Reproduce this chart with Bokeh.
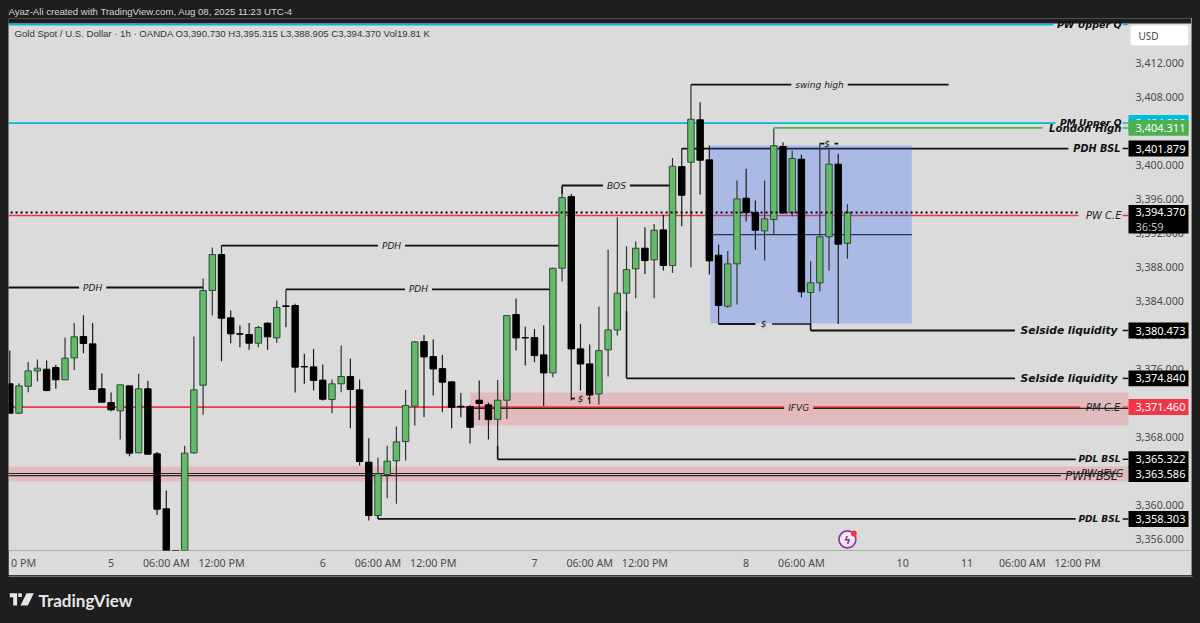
from bokeh.embed import file_html
from bokeh.resources import INLINE
from bokeh.plotting import figure
from bokeh.layouts import column, row
from bokeh.models import (BoxAnnotation, ColumnDataSource, FixedTicker, Label, NumeralTickFormatter,
                          Range1d, Spacer)
from bokeh.core.properties import value

# ---- data -----------------------------------------------------------------
opens = [3374.2,3370.74,3373.92,3375.72,3375.92,3376.12,3374.67,3377.25,3379.77,3378.9,
         3373.61,3372.0,3371.02,3373.96,3366.08,3373.61,3365.96,3359.49,3353.5,3353.0,
         3366.08,3374.04,3385.18,3389.41,3381.96,3380.08,3380.0,3378.98,3381.33,3379.61,
         3383.37,3383.41,3376.23,3376.19,3374.63,3372.35,3374.2,3375.06,3373.49,3364.98,
         3358.7,3363.53,3365.14,3367.41,3371.56,3379.17,3377.41,3375.99,3374.43,3371.56,
         3371.52,3372.27,3371.72,3370.03,3372.27,3382.35,3379.64,3379.64,3377.6,3375.48,
         3387.8,3396.23,3378.31,3376.54,3373.01,3378.19,3380.54,3384.86,3387.72,3390.15,
         3388.78,3392.31,3388.12,3399.76,3400.27,3405.26,3400.55,3389.33,3383.33,3388.31,
         3396.04,3394.35,3392.19,3393.53,3402.12,3394.35,3400.63,3384.94,3386.08,3391.49,
         3400.04,3390.73]
highs = [3378.12,3374.27,3376.78,3377.06,3376.94,3376.43,3379.65,3381.37,3382.27,3381.37,
         3375.41,3373.18,3374.08,3373.96,3375.37,3374.55,3366.19,3361.64,3354.2,3366.9,
         3379.76,3386.59,3390.24,3390.35,3382.82,3381.06,3381.37,3381.02,3381.45,3384.0,
         3385.29,3383.61,3377.73,3378.31,3376.47,3374.71,3378.71,3377.14,3374.71,3367.8,
         3365.49,3366.9,3369.18,3373.47,3379.2,3379.95,3379.41,3377.6,3374.5,3373.13,
         3371.7,3374.58,3372.0,3374.66,3382.3,3384.23,3380.9,3380.66,3381.05,3387.85,
         3396.54,3396.54,3381.25,3378.82,3383.29,3389.96,3393.8,3390.39,3390.94,3392.62,
         3393.01,3394.08,3400.78,3401.84,3409.41,3407.33,3402.24,3390.59,3389.84,3398.12,
         3399.49,3395.76,3398.12,3404.2,3402.63,3401.65,3401.18,3388.63,3402.51,3401.8,
         3401.26,3395.315]
lows = [3370.74,3370.67,3373.21,3374.47,3373.33,3373.61,3374.67,3375.84,3377.8,3373.53,
        3372.04,3370.98,3367.65,3365.68,3366.08,3365.92,3358.78,3352.5,3350.5,3352.0,
        3365.96,3370.55,3382.24,3376.86,3378.98,3378.51,3378.2,3378.51,3378.2,3379.02,
        3380.86,3373.18,3374.2,3373.41,3372.23,3370.74,3373.21,3368.98,3364.59,3358.11,
        3358.7,3360.74,3360.08,3365.18,3369.29,3370.27,3372.82,3370.86,3368.97,3370.27,
        3367.18,3369.95,3367.65,3366.94,3370.07,3378.11,3376.35,3376.74,3371.56,3374.97,
        3386.23,3372.23,3373.4,3371.84,3371.76,3375.05,3379.88,3382.82,3384.27,3387.13,
        3384.27,3387.53,3387.25,3392.74,3387.92,3396.47,3387.06,3381.25,3383.14,3383.53,
        3393.29,3389.96,3388.7,3391.76,3394.2,3393.88,3384.39,3381.3,3385.1,3387.53,
        3381.25,3388.905]
closes = [3370.74,3373.96,3375.72,3376.04,3373.41,3374.67,3377.22,3379.73,3378.94,3373.53,
          3372.04,3371.14,3374.08,3366.04,3373.61,3365.92,3359.45,3353.5,3351.5,3366.04,
          3373.49,3385.18,3389.41,3381.92,3380.08,3380.04,3378.98,3380.82,3379.73,3383.18,
          3383.29,3376.16,3376.19,3374.59,3372.39,3374.2,3375.06,3373.53,3365.06,3358.7,
          3363.61,3365.1,3367.37,3371.65,3379.13,3377.37,3375.95,3374.39,3371.44,3371.48,
          3369.09,3371.88,3369.99,3372.27,3382.23,3379.6,3379.6,3377.52,3375.48,3387.8,
          3396.11,3378.31,3376.54,3372.89,3378.11,3380.54,3384.86,3387.64,3390.15,3388.7,
          3392.27,3388.12,3399.8,3396.39,3405.33,3400.51,3388.67,3383.41,3388.31,3395.96,
          3394.35,3392.27,3393.61,3402.2,3394.31,3400.71,3385.02,3386.08,3391.49,3400.04,
          3390.63,3394.37]

price_ticks = [3356,3360,3364,3368,3372,3376,3380,3384,3388,3392,3396,3400,3404,3408,3412]
time_ticks = {1.5:"0 PM",11:"5",17:"06:00 AM",23:"12:00 PM",34:"6",40:"06:00 AM",46:"12:00 PM",
              57:"7",63:"06:00 AM",69:"12:00 PM",80:"8",86:"06:00 AM",97:"10",104:"11",
              110:"06:00 AM",116:"12:00 PM"}

BLACK, CYAN, GREEN, RED = "#111111", "#00bcd4", "#4caf50", "#f23645"
CANDLE_GREEN = "#63ba6b"
# levels: price, first bar, last bar, colour
levels = [
    (3416.47, -1, 113.4, CYAN), (3404.88, -1, 113.6, CYAN), (3404.311, 83, 112.2, GREEN),
    (3409.41, 74, 102, BLACK), (3401.879, 73, 115, BLACK), (3394.0, -1, 116.1, RED),
    (3381.24, 77, 81, BLACK), (3380.473, 87, 109.2, BLACK), (3374.84, 67, 109.2, BLACK),
    (3371.46, -1, 116.3, RED), (3365.322, 53, 115.8, BLACK), (3358.303, 40, 115.8, BLACK),
    (3385.53, -1, 21, BLACK), (3390.47, 23, 60, BLACK), (3385.3, 30, 59, BLACK), (3397.53, 60, 72, BLACK),
]
thin_levels = [(3371.3, 50, 121.53), (3363.65, -1, 120.9), (3363.4, -1, 114.2), (3391.76, 76.1, 98)]
tick_levels = [(3416.47, CYAN), (3404.88, CYAN), (3404.311, GREEN), (3401.879, BLACK), (3394.0, RED),
               (3380.473, BLACK), (3374.84, BLACK), (3371.46, RED), (3365.322, BLACK), (3358.303, BLACK)]
short_dashes = [(3402.47, 88, 88.5), (3402.47, 89.6, 90), (3372.47, 61, 61.4), (3372.47, 62.8, 63),
                (3381.24, 82.8, 87)]
tags = [(3404.88, "3,404.880", CYAN), (3404.311, "3,404.311", GREEN), (3401.879, "3,401.879", "#000000"),
        (3380.473, "3,380.473", "#000000"), (3374.84, "3,374.840", "#000000"), (3371.46, "3,371.460", RED),
        (3365.322, "3,365.322", "#000000"), (3363.586, "3,363.586", "#000000"), (3358.303, "3,358.303", "#000000")]
BG, PINK_BG = "#dbdbdb", "#e6babd"
line_notes = [("PDH", 9.0, 3385.53, BG), ("PDH", 41.47, 3390.47, BG), ("PDH", 44.4, 3385.3, BG),
              ("BOS", 65.9, 3397.53, BG), ("swing high", 87.97, 3409.41, BG),
              ("$", 81.9, 3381.24, None), ("$", 88.8, 3402.47, None), ("$", 62, 3372.47, None),
              ("IFVG", 85.7, 3371.3, PINK_BG)]
side_notes = [("PW Upper Q", 120.77, 3416.47), ("PM Upper Q", 120.77, 3404.95), ("London High", 120.77, 3404.25),
              ("PDH BSL", 120.66, 3401.879), ("Selside liquidity", 120.34, 3380.473),
              ("Selside liquidity", 120.34, 3374.84), ("PDL BSL", 120.66, 3365.322),
              ("PDL BSL", 120.66, 3358.303)]
faint_notes = [("PW C.E", 120.77, 3394.0), ("PM C.E", 120.66, 3371.46), ("PW IFVG", 120.99, 3363.7),
               ("PWH BSL", 120.34, 3363.35)]
side_sizes = {"PW Upper Q": "9.5px", "PM Upper Q": "9.2px", "London High": "10.2px", "PDH BSL": "9.7px",
              "Selside liquidity": "10.7px", "PDL BSL": "9px"}
faint_sizes = {"PW C.E": "10px", "PM C.E": "10px", "PW IFVG": "10px", "PWH BSL": "11.5px"}

FONT = "Noto Sans"
DARK = "#1e1e1e"

# ---- main pane: starts 5px above the pane edge so the top label is not cut by the frame --------
p = figure(width=1183, height=557, output_backend="svg", toolbar_location=None,
           x_range=Range1d(-0.141, 128.38), y_range=Range1d(3354.59, 3417.18),
           y_axis_location="right", min_border_left=0, min_border_top=0,
           min_border_right=0, min_border_bottom=25,
           background_fill_color=BG, border_fill_color=BG, outline_line_color=None)
p.grid.visible = False

for ax in (p.xaxis[0], p.yaxis[0]):
    ax.axis_line_color = None
    ax.major_tick_line_color = None
    ax.minor_tick_line_color = None
    ax.major_tick_out = 0
    ax.major_tick_in = 0
    ax.major_label_text_color = "#4a4a4a"
    ax.major_label_text_font = FONT
    ax.major_label_text_font_size = "10.7px"
p.xaxis[0].ticker = FixedTicker(ticks=list(time_ticks))
p.xaxis[0].major_label_overrides = time_ticks
p.xaxis[0].major_label_standoff = 5
p.yaxis[0].ticker = FixedTicker(ticks=price_ticks)
p.yaxis[0].formatter = NumeralTickFormatter(format="0,0.000")
p.yaxis[0].major_label_standoff = 7
p.yaxis[0].fixed_location = 121.53

p.quad(left=[-1], right=[130], top=[3417.3], bottom=[3416.59], fill_color=DARK, line_color=None)

# pink zones under everything
p.quad(left=[50], right=[121.53], top=[3373.18], bottom=[3369.29], fill_color="#ff3b4e", fill_alpha=0.2, line_color=None)
p.quad(left=[-1], right=[121.53], top=[3364.47], bottom=[3362.71], fill_color="#ff3b4e", fill_alpha=0.2, line_color=None)

# levels with their connector to the candle
for price, a, b, col in levels:
    p.line([a, b], [price, price], line_color=col, line_width=1.8 if col != RED else 1.6)
    if a >= 0:
        near = min(max(price, lows[a]), highs[a])
        p.line([a, a], [price, near], line_color=col, line_width=1.6)
for price, a, b in thin_levels:
    p.line([a, b], [price, price], line_color="#222222", line_width=1.2)
for price, col in tick_levels:
    p.line([120.9, 121.53], [price, price], line_color=col, line_width=1.5)
for price, a, b in short_dashes:
    p.line([a, b], [price, price], line_color=BLACK, line_width=1.7)

# blue zone
p.quad(left=[76.1], right=[98], top=[3402.24], bottom=[3381.29], fill_color="#2962ff", fill_alpha=0.27, line_color=None)

# candles
bars = list(range(len(opens)))
src = ColumnDataSource(dict(x=bars, o=opens, h=highs, l=lows, c=closes,
                            top=[max(a, b) for a, b in zip(opens, closes)],
                            bot=[min(a, b) for a, b in zip(opens, closes)],
                            fill=[CANDLE_GREEN if c >= o else "#000000" for o, c in zip(opens, closes)],
                            edge=["#2e4a31" if c >= o else "#000000" for o, c in zip(opens, closes)],
                            wick=["#333333" if c >= o else "#1a1a1a" for o, c in zip(opens, closes)]))
p.segment(x0="x", x1="x", y0="h", y1="l", source=src, line_color="wick", line_width=1.2)
p.vbar(x="x", width=0.7, top="top", bottom="bot", source=src, fill_color="fill", line_color="edge", line_width=1)

# current price line
p.line([-1, 116.3], [3394.37, 3394.37], line_color="#000000", line_width=2, line_dash="2 3")

# texts on the lines
for txt, x, y, bg in line_notes:
    kw = dict(background_fill_color=bg, padding=4) if bg else {}
    p.text(x=[x], y=[y], text=[txt], text_align="center", text_baseline="middle",
           text_font=value("DejaVu Sans"), text_font_style="italic", text_font_size="9px",
           text_color="#222222", **kw)
for txt, x, y in side_notes:
    p.text(x=[x], y=[y], text=[txt], text_align="right", text_baseline="middle",
           text_font=value("DejaVu Sans"), text_font_style="bold italic", text_font_size=side_sizes[txt],
           text_color="#111111")
for txt, x, y in faint_notes:
    p.text(x=[x], y=[y], text=[txt], text_align="right", text_baseline="middle",
           text_font=value("DejaVu Sans"), text_font_style="italic", text_font_size=faint_sizes[txt],
           text_color="#222222")

# session icon
p.scatter(x=[91], y=[3355.9], size=17, marker="circle", fill_color="#ececec", line_color="#9c27b0", line_width=1.6)
p.scatter(x=[91.7], y=[3356.6], size=6, marker="circle", fill_color="#f23645", line_color=None)
p.text(x=[91], y=[3355.8], text=["ϟ"], text_align="center", text_baseline="middle", text_color="#9c27b0",
       text_font=value("DejaVu Sans"), text_font_style="bold", text_font_size="11px")

# price tags over the axis
def canvas_label(x, y, text, color, size, y_units="canvas"):
    p.add_layout(Label(x=x, y=y, x_units="canvas", y_units=y_units, text=text, text_color=color,
                       text_font=FONT, text_font_size=size, text_baseline="middle", level="overlay"))

for price, txt, col in tags:
    p.add_layout(BoxAnnotation(left=1120, right=1180, left_units="canvas", right_units="canvas",
                               top=price + 0.94, bottom=price - 0.94, fill_color=col, fill_alpha=1,
                               line_color=None, level="overlay"))
    canvas_label(1127, price, txt, "#ffffff", "11px", y_units="data")
p.add_layout(BoxAnnotation(left=1120, right=1180, left_units="canvas", right_units="canvas",
                           top=3395.24, bottom=3391.88, fill_color="#000000", fill_alpha=1,
                           line_color=None, level="overlay"))
canvas_label(1127, 3394.37, "3,394.370", "#ffffff", "11px", y_units="data")
canvas_label(1127, 3392.7, "36:59", "#c4c4c4", "11px", y_units="data")

# currency box
p.add_layout(BoxAnnotation(left=1122, right=1180, top=7, bottom=27, left_units="canvas", right_units="canvas",
                           top_units="canvas", bottom_units="canvas", fill_color="#ffffff", fill_alpha=1,
                           line_color=None, border_radius=3, level="overlay"))
canvas_label(1130, 17, "USD", "#444444", "10px")
p.add_layout(Label(x=6, y=14.5, x_units="canvas", y_units="canvas",
                   text="Gold Spot / U.S. Dollar · 1h · OANDA O3,390.730 H3,395.315 L3,388.905 C3,394.370 Vol19.81 K",
                   text_color="#333333", text_font="Liberation Sans", text_font_size="9.6px",
                   text_baseline="middle", level="overlay"))

# ---- header strip ------------------------------------------------------------
def strip(height):
    f = figure(width=1200, height=height, output_backend="svg", toolbar_location=None,
               x_range=Range1d(0, 1200), y_range=Range1d(height, 0), min_border=0,
               background_fill_color=DARK, border_fill_color=DARK, outline_line_color=None)
    f.axis.visible = False
    f.grid.visible = False
    return f

head = strip(18)
head.text(x=[8], y=[11], text=["Ayaz-Ali created with TradingView.com, Aug 08, 2025 11:23 UTC-4"],
          text_color="#d6d6d6", text_font=value("Liberation Sans"), text_font_size="9.6px", text_baseline="middle")

# ---- footer strip ------------------------------------------------------------
foot = strip(48)
foot.quad(left=[8], right=[1192], top=[0], bottom=[1.2], fill_color="#8f8f8f", line_color=None)
foot.patches(xs=[[9.3, 16.6, 16.6, 12.7, 12.7, 9.3], [17.8, 21.3, 21.3, 17.8], [26, 33.3, 27.3, 20]],
             ys=[[17.7, 17.7, 30, 30, 21.7, 21.7], [17.7, 17.7, 21.4, 21.4], [17.7, 17.7, 30, 30]],
             fill_color="#e6e6e6", line_color=None)
foot.text(x=[38], y=[24.5], text=["TradingView"], text_color="#e6e6e6", text_font=value("Lato"),
          text_font_style="bold", text_font_size="17px", text_baseline="middle")

page = column(head,
              row(Spacer(width=8, height=557), p,
                  Spacer(width=1, height=557, styles={"background": "#8f8f8f"}),
                  Spacer(width=8, height=557)),
              foot, spacing=0)

html = file_html(page, INLINE)
html = html.replace("</head>", "<style>html,body{margin:0;padding:0;background:#1e1e1e;overflow:hidden}</style></head>", 1)
open("out.html", "w").write(html)
